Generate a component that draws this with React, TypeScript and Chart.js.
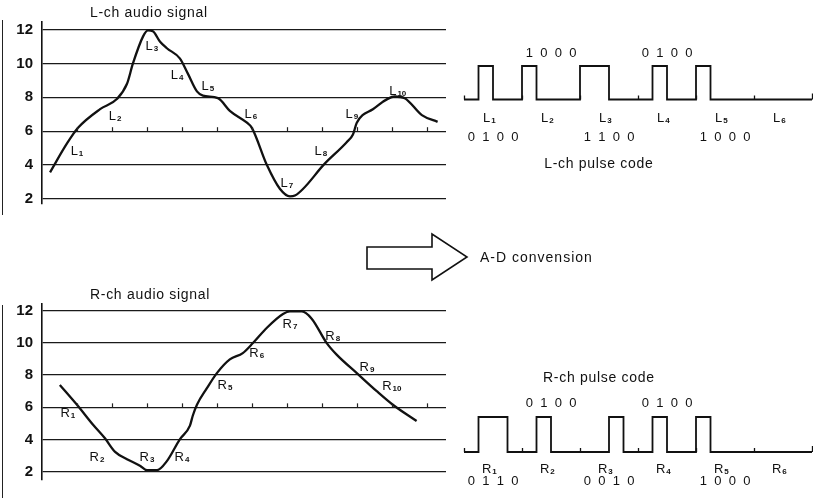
import React, { useEffect, useRef } from 'react';
import { Chart, registerables } from 'chart.js';

Chart.register(...registerables);

const FONT = '"Liberation Sans", Arial, Helvetica, sans-serif';

// ---------- data ----------
const levelTicks = [2, 4, 6, 8, 10, 12];
const sampleTicks = [1, 2, 3, 4, 5, 6, 7, 8, 9, 10, 11];

const lSignalX = [0.23, 0.71, 1.03, 1.66, 2.14, 2.43, 2.6, 2.89, 3.03, 3.17, 3.37, 3.57, 3.94, 4.17, 4.43, 4.6, 5.03, 5.37, 5.86, 6.0, 6.43, 6.8, 7.09, 7.23, 8.09, 8.71, 8.89, 9.0, 9.46, 10.09, 10.37, 10.86, 11.31];
const lSignalY = [3.57, 5.26, 6.2, 7.3, 7.9, 8.8, 10.0, 11.6, 11.95, 11.9, 11.3, 10.9, 10.3, 9.4, 8.35, 8.1, 7.95, 7.2, 6.5, 6.2, 4.0, 2.6, 2.15, 2.2, 4.1, 5.35, 5.8, 6.5, 7.3, 8.05, 7.95, 6.95, 6.55];

const rSignalX = [0.51, 1.0, 1.46, 1.8, 2.09, 2.43, 2.8, 3.0, 3.29, 3.57, 3.94, 4.23, 4.31, 4.43, 4.71, 5.0, 5.37, 5.74, 6.03, 6.43, 6.89, 7.09, 7.43, 7.71, 8.14, 8.43, 9.0, 9.57, 10.03, 10.71];
const rSignalY = [7.39, 6.16, 4.92, 4.08, 3.24, 2.79, 2.39, 2.11, 2.11, 2.67, 4.02, 4.87, 5.48, 6.16, 7.17, 8.12, 8.97, 9.36, 9.98, 10.93, 11.78, 11.94, 11.94, 11.49, 9.98, 9.25, 8.12, 7.0, 6.16, 5.15];

const sampleNames = ['1', '2', '3', '4', '5', '6', '7', '8', '9', '10'];
const lLabelX = [1.0, 2.09, 3.14, 3.86, 4.74, 5.97, 7.0, 7.97, 8.86, 10.17];
const lLabelY = [4.87, 6.94, 11.05, 9.36, 8.69, 7.06, 2.96, 4.87, 7.06, 8.4];
const rLabelX = [0.74, 1.57, 3.0, 4.0, 5.23, 6.14, 7.09, 8.31, 9.29, 10.0];
const rLabelY = [5.71, 2.96, 2.96, 2.96, 7.45, 9.42, 11.21, 10.48, 8.52, 7.39];

const segmentNames = ['1', '2', '3', '4', '5', '6'];
const lCodes = ['0100', '1000', '1100', '0100', '1000', ''];
const rCodes = ['0110', '0100', '0010', '0100', '1000', ''];

// ---------- helpers ----------
function drawSubLabel(ctx: CanvasRenderingContext2D, letter: string, num: string, cx: number, cy: number, big = 13, small = 8) {
  ctx.save();
  ctx.fillStyle = '#111';
  ctx.textBaseline = 'alphabetic';
  ctx.textAlign = 'left';
  ctx.font = `${big}px ${FONT}`;
  const w1 = ctx.measureText(letter).width;
  ctx.font = `bold ${small}px ${FONT}`;
  const w2 = ctx.measureText(num).width;
  const total = w1 + 1 + w2;
  const x0 = cx - total / 2;
  const base = cy + big * 0.36;
  ctx.font = `${big}px ${FONT}`;
  ctx.fillText(letter, x0, base);
  ctx.font = `bold ${small}px ${FONT}`;
  ctx.fillText(num, x0 + w1 + 1, base + 1);
  ctx.restore();
}

function drawSpacedText(ctx: CanvasRenderingContext2D, text: string, x: number, y: number, size: number, spacing: number, align: CanvasTextAlign) {
  ctx.save();
  ctx.fillStyle = '#111';
  ctx.font = `${size}px ${FONT}`;
  (ctx as any).letterSpacing = `${spacing}px`;
  ctx.textAlign = align;
  ctx.textBaseline = 'middle';
  ctx.fillText(text, x, y);
  ctx.restore();
}

type AudioProps = {
  left: number; top: number; width: number; height: number;
  padTop: number; padBottom: number; padRight: number;
  yMin: number; yMax: number;
  xs: number[]; ys: number[];
  labelX: number[]; labelY: number[];
  letter: string; title: string;
};

function AudioPanel(p: AudioProps) {
  const ref = useRef<HTMLCanvasElement>(null);
  useEffect(() => {
    const data = p.xs.map((x, i) => ({ x, y: p.ys[i] }));
    const overlay = {
      id: 'overlay',
      afterDraw(chart: any) {
        const ctx: CanvasRenderingContext2D = chart.ctx;
        const xs = chart.scales.x;
        const ys = chart.scales.y;
        const area = chart.chartArea;
        ctx.save();
        ctx.strokeStyle = '#222';
        ctx.lineWidth = 1.2;
        const y6 = ys.getPixelForValue(6);
        sampleTicks.forEach((t) => {
          const px = Math.round(xs.getPixelForValue(t)) + 0.5;
          ctx.beginPath();
          ctx.moveTo(px, y6);
          ctx.lineTo(px, y6 - 4);
          ctx.stroke();
        });
        ctx.restore();
        p.labelX.forEach((lx, i) => {
          drawSubLabel(ctx, p.letter, sampleNames[i], xs.getPixelForValue(lx), ys.getPixelForValue(p.labelY[i]));
        });
        drawSpacedText(ctx, p.title, area.left + 48, area.top - 9, 14, 0.7, 'left');
      },
    };
    const chart = new Chart(ref.current!, {
      type: 'line',
      data: {
        datasets: [{
          data,
          borderColor: '#111',
          borderWidth: 2.3,
          pointRadius: 0,
          cubicInterpolationMode: 'monotone',
          fill: false,
        }],
      },
      options: {
        responsive: false,
        animation: false,
        events: [],
        layout: { padding: { left: 0, right: p.padRight, top: p.padTop, bottom: p.padBottom } },
        plugins: { legend: { display: false }, tooltip: { enabled: false }, title: { display: false } },
        scales: {
          x: { type: 'linear', display: false, min: 0, max: 11.55 },
          y: {
            type: 'linear',
            min: p.yMin,
            max: p.yMax,
            afterFit: (s: any) => { s.width = 42; },
            afterBuildTicks: (s: any) => { s.ticks = levelTicks.map((v) => ({ value: v })); },
            grid: { color: '#1a1a1a', lineWidth: 1.2, drawTicks: false },
            border: { display: true, color: '#111', width: 1.6 },
            ticks: {
              padding: 9,
              color: '#111',
              font: { family: FONT, size: 15, weight: 'bold' },
              callback: (v: any) => String(v),
            },
          },
        },
      } as any,
      plugins: [overlay],
    });
    return () => chart.destroy();
  }, []);
  return (
    <canvas
      ref={ref}
      width={p.width}
      height={p.height}
      style={{ position: 'absolute', left: p.left, top: p.top, width: p.width, height: p.height }}
    />
  );
}

type PulseProps = {
  left: number; top: number; width: number; height: number;
  padTop: number; padBottom: number;
  codes: string[]; letter: string; title: string;
  labelOffset: number; codeBelowOffset: number; codeAboveOffset: number; titleOffset: number;
};

function PulsePanel(p: PulseProps) {
  const ref = useRef<HTMLCanvasElement>(null);
  useEffect(() => {
    const bits = p.codes.flatMap((c) => (c || '0000').split('').map(Number));
    const data = bits.map((b, i) => ({ x: i, y: b }));
    data.push({ x: bits.length, y: 0 });
    const overlay = {
      id: 'pulseOverlay',
      afterDraw(chart: any) {
        const ctx: CanvasRenderingContext2D = chart.ctx;
        const xs = chart.scales.x;
        const ys = chart.scales.y;
        const base = ys.getPixelForValue(0);
        const topY = ys.getPixelForValue(1);
        ctx.save();
        ctx.strokeStyle = '#111';
        ctx.lineWidth = 1.3;
        for (let s = 0; s <= p.codes.length; s++) {
          const px = Math.round(xs.getPixelForValue(s * 4)) + 0.5;
          ctx.beginPath();
          ctx.moveTo(px, base);
          ctx.lineTo(px, base - (s === p.codes.length ? 6 : 4));
          ctx.stroke();
        }
        ctx.restore();
        p.codes.forEach((code, s) => {
          drawSubLabel(ctx, p.letter, segmentNames[s], xs.getPixelForValue(s * 4 + 1.75), base + p.labelOffset);
          if (!code) return;
          const cy = s % 2 === 1 ? topY - p.codeAboveOffset : base + p.codeBelowOffset;
          ctx.save();
          ctx.fillStyle = '#111';
          ctx.font = `13px ${FONT}`;
          ctx.textAlign = 'center';
          ctx.textBaseline = 'middle';
          code.split('').forEach((d, j) => {
            ctx.fillText(d, xs.getPixelForValue(s * 4 + j + 0.5), cy);
          });
          ctx.restore();
        });
        drawSpacedText(ctx, p.title, xs.getPixelForValue(9.3), base + p.titleOffset, 14, 0.7, 'center');
      },
    };
    const chart = new Chart(ref.current!, {
      type: 'line',
      data: {
        datasets: [{
          data,
          stepped: 'before',
          borderColor: '#111',
          borderWidth: 1.8,
          pointRadius: 0,
          fill: false,
          clip: false,
        }],
      },
      options: {
        responsive: false,
        animation: false,
        events: [],
        layout: { padding: { left: 24, right: 1, top: p.padTop, bottom: p.padBottom } },
        plugins: { legend: { display: false }, tooltip: { enabled: false } },
        scales: {
          x: { type: 'linear', display: false, min: 0, max: 24 },
          y: { type: 'linear', display: false, min: 0, max: 1 },
        },
      } as any,
      plugins: [overlay],
    });
    return () => chart.destroy();
  }, []);
  return (
    <canvas
      ref={ref}
      width={p.width}
      height={p.height}
      style={{ position: 'absolute', left: p.left, top: p.top, width: p.width, height: p.height }}
    />
  );
}

export default function App() {
  useEffect(() => {
    document.body.style.margin = '0';
  }, []);
  return (
    <div style={{ position: 'relative', width: 813, height: 498, background: '#fff', overflow: 'hidden', fontFamily: FONT }}>
      <div style={{ position: 'absolute', left: 2, top: 20, height: 195, borderLeft: '1.5px solid #222' }} />
      <div style={{ position: 'absolute', left: 2, top: 305, height: 193, borderLeft: '1.5px solid #222' }} />
      <AudioPanel
        left={0} top={0} width={460} height={222}
        padTop={22} padBottom={9} padRight={14}
        yMin={1.7} yMax={12.45}
        xs={lSignalX} ys={lSignalY}
        labelX={lLabelX} labelY={lLabelY}
        letter="L" title="L-ch audio signal"
      />
      <AudioPanel
        left={0} top={280} width={460} height={218}
        padTop={24} padBottom={0} padRight={14}
        yMin={1.5} yMax={12.4}
        xs={rSignalX} ys={rSignalY}
        labelX={rLabelX} labelY={rLabelY}
        letter="R" title="R-ch audio signal"
      />
      <PulsePanel
        left={440} top={0} width={373} height={180}
        padTop={66} padBottom={80.5}
        codes={lCodes} letter="L" title="L-ch pulse code"
        labelOffset={17.5} codeBelowOffset={37.5} codeAboveOffset={13} titleOffset={64.5}
      />
      <PulsePanel
        left={440} top={340} width={373} height={158}
        padTop={77} padBottom={46}
        codes={rCodes} letter="R" title="R-ch pulse code"
        labelOffset={16.5} codeBelowOffset={29.5} codeAboveOffset={14} titleOffset={-74}
      />
      <svg width={813} height={498} style={{ position: 'absolute', left: 0, top: 0, pointerEvents: 'none' }}>
        <polygon
          points="367,247 432,247 432,234 467,257 432,280 432,269 367,269"
          fill="#fff" stroke="#111" strokeWidth={1.6} strokeLinejoin="miter"
        />
      </svg>
      <div style={{ position: 'absolute', left: 480, top: 248, fontSize: 14, letterSpacing: '1px', color: '#111', lineHeight: '18px', whiteSpace: 'nowrap' }}>
        A-D convension
      </div>
    </div>
  );
}
